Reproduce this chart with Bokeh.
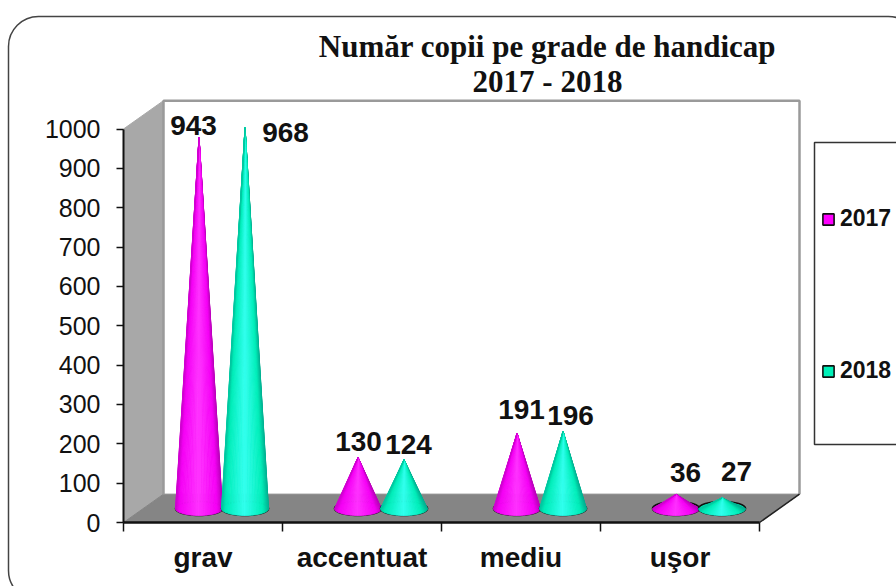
import math
from bokeh.plotting import figure
from bokeh.embed import file_html
from bokeh.resources import INLINE
from bokeh.core.properties import value
from bokeh.models import (BoxAnnotation, FixedTicker, Label, Legend, LegendItem, Range1d)

categories = ["grav", "accentuat", "mediu", "uşor"]
series_2017 = [943, 130, 191, 36]
series_2018 = [968, 124, 196, 27]
series_names = ["2017", "2018"]
y_ticks = [0, 100, 200, 300, 400, 500, 600, 700, 800, 900, 1000]
title_lines = ["Număr copii pe grade de handicap", "2017 - 2018"]

# pixel layout of the 3-D box
W, H = 896, 586
PX_X0, PX_CAT = 123, 159.0
PX_Y0, PX_UNIT = 522, 0.3935


def dx(px):
    return (px - PX_X0) / PX_CAT


def dy(px):
    return (PX_Y0 - px) / PX_UNIT


p = figure(width=W, height=H, output_backend="svg", toolbar_location=None,
           x_range=Range1d(dx(0), dx(W)), y_range=Range1d(dy(H), dy(0)),
           min_border_left=0, min_border_right=0, min_border_top=0, min_border_bottom=0)
p.styles = {"position": "absolute", "left": "0px", "top": "0px"}
p.grid.visible = False
p.outline_line_color = None

DEPTH_X = dx(163)
DEPTH_Y = 72.0
TOP = y_ticks[-1]
N_CAT = len(categories)

# walls and floor
p.patch([0, DEPTH_X, DEPTH_X, 0], [0, DEPTH_Y, TOP + DEPTH_Y, TOP],
        fill_color="#A8A8A8", line_color="#A8A8A8", line_width=1)
p.patch([0, DEPTH_X, N_CAT + DEPTH_X, N_CAT], [0, DEPTH_Y, DEPTH_Y, 0],
        fill_color="#858585", line_color="#858585", line_width=1)
p.line([DEPTH_X, DEPTH_X, N_CAT + DEPTH_X, N_CAT + DEPTH_X],
       [DEPTH_Y, TOP + DEPTH_Y, TOP + DEPTH_Y, DEPTH_Y], line_color="#9A9A9A", line_width=2.5)
p.line([N_CAT, N_CAT + DEPTH_X], [0, DEPTH_Y], line_color="#222222", line_width=1.5)

# cones
BASE_UP = (PX_Y0 - 508) / PX_UNIT
OFFSET = 23.0 / PX_CAT
RX = 23.5 / PX_CAT
RY = 7.0 / PX_UNIT
MID_X = DEPTH_X / 2


def mix(a, b, t):
    return "#%02x%02x%02x" % tuple(round(a[i] + (b[i] - a[i]) * t) for i in range(3))


palettes = [((185, 0, 185), (245, 0, 245), (255, 50, 255)),
            ((0, 175, 145), (0, 238, 185), (50, 255, 238))]
legend_items = []
for s, vals in enumerate([series_2017, series_2018]):
    sign = -1 if s == 0 else 1
    edge, body, glow = palettes[s]
    base_xs, base_ys, xs, ys, cols = [], [], [], [], []
    for c, v in enumerate(vals):
        cx = c + 0.5 + MID_X + sign * OFFSET - 0.006
        base_xs.append([cx + RX * math.cos(2 * math.pi * k / 48) for k in range(48)])
        base_ys.append([BASE_UP + RY * math.sin(2 * math.pi * k / 48) for k in range(48)])
        n = 40
        for k in range(n):
            a0, a1 = math.pi * k / n, math.pi * (k + 1) / n
            xs.append([cx, cx + RX * math.cos(a0), cx + RX * math.cos(a1)])
            ys.append([BASE_UP + v, BASE_UP - RY * math.sin(a0), BASE_UP - RY * math.sin(a1)])
            u = math.cos((a0 + a1) / 2)        # +1 right edge, -1 left edge
            au = abs(u + 0.05)
            if au > 0.8:
                cols.append(mix(body, edge, min(1.0, (au - 0.8) / 0.25)))
            else:
                cols.append(mix(glow, body, au / 0.8))
    r = p.patches(base_xs, base_ys, fill_color=["#ff00ff", "#00f0b8"][s], line_color="#101010", line_width=1.6)
    p.patches(xs, ys, fill_color=cols, line_color=cols, line_width=0.8)
    legend_items.append(LegendItem(label=series_names[s], renderers=[r]))

# value labels (placed individually, as in the original)
label_px = [[(193, 125), (358, 441), (521, 409), (685, 472)],
            [(285, 132), (408, 444), (570, 415), (736, 471)]]
for s, vals in enumerate([series_2017, series_2018]):
    p.text([dx(a) for a, _ in label_px[s]], [dy(b) for _, b in label_px[s]], text=[str(v) for v in vals],
           text_font=value("Liberation Sans"), text_font_style="bold", text_font_size="28px",
           text_color="#111111", text_align="center", text_baseline="middle")

# axes
xa = p.xaxis[0]
xa.fixed_location = 0
xa.level = "overlay"
xa.ticker = FixedTicker(ticks=[i + 0.5 for i in range(N_CAT)], minor_ticks=list(range(N_CAT + 1)))
xa.major_label_overrides = {i + 0.5: categories[i] for i in range(N_CAT)}
xa.bounds = (0, N_CAT)
xa.major_tick_in = xa.major_tick_out = 0
xa.minor_tick_in = 0
xa.minor_tick_out = 9
xa.minor_tick_line_color = "#111111"
xa.minor_tick_line_width = 1.5
xa.axis_line_color = "#111111"
xa.axis_line_width = 2.5
xa.major_label_text_font = "Liberation Sans"
xa.major_label_text_font_style = "bold"
xa.major_label_text_font_size = "28px"
xa.major_label_text_color = "#111111"
xa.major_label_standoff = 10

ya = p.yaxis[0]
ya.fixed_location = 0
ya.level = "overlay"
ya.ticker = FixedTicker(ticks=y_ticks)
ya.bounds = (0, TOP)
ya.major_tick_in = 0
ya.major_tick_out = 7
ya.minor_tick_in = ya.minor_tick_out = 0
ya.major_tick_line_color = "#111111"
ya.major_tick_line_width = 1.5
ya.axis_line_color = "#111111"
ya.axis_line_width = 2
ya.major_label_text_font = "Liberation Sans"
ya.major_label_text_font_size = "25px"
ya.major_label_text_color = "#111111"
ya.major_label_standoff = 16

# outer rounded frame, legend box
p.add_layout(BoxAnnotation(left=dx(8), right=dx(918), top=dy(16), bottom=dy(600),
                           fill_color=None, line_color="#444444", line_alpha=1, line_width=1.5, border_radius=30))
p.add_layout(BoxAnnotation(left=dx(814), right=dx(930), top=dy(142), bottom=dy(444),
                           fill_color=None, line_color="#333333", line_alpha=1, line_width=1.5))

# title
for txt, y in zip(title_lines, (46, 81)):
    p.add_layout(Label(x=dx(547), y=dy(y), text=txt, text_font="Liberation Serif", text_font_style="bold",
                       text_font_size="31px", text_color="#111111", text_align="center", text_baseline="middle"))

legend = Legend(items=legend_items, location=(821, H - 384), orientation="vertical",
                background_fill_alpha=0, border_line_color=None, padding=7, margin=0, spacing=125,
                glyph_width=14, glyph_height=14, label_standoff=5, label_height=18,
                label_text_font="Liberation Sans", label_text_font_style="bold",
                label_text_font_size="23px", label_text_color="#111111")
p.add_layout(legend)

open("out.html", "w").write(file_html(p, INLINE))
